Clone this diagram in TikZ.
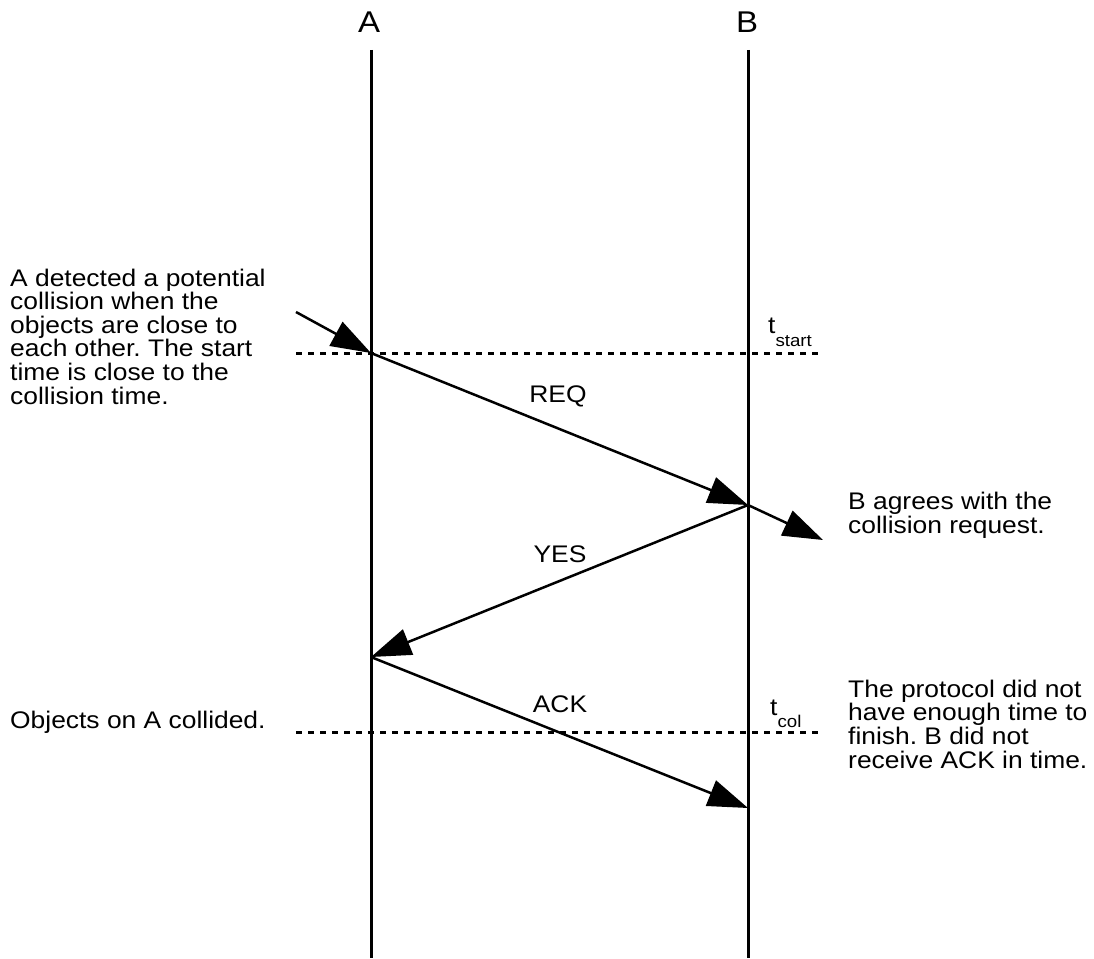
\documentclass[tikz,border=0pt]{standalone}
\usepackage{fontspec}
\setmainfont[FakeStretch=1.1]{Liberation Sans}
\usetikzlibrary{arrows.meta}
\frenchspacing
\newcommand{\notefont}{\fontsize{24}{23.6}\selectfont\frenchspacing\lineskiplimit=-30pt\relax\lineskip=0pt\relax}
\begin{document}
\begin{tikzpicture}[x=1pt,y=-1pt,
  body/.style={font=\notefont, inner sep=0pt, align=left, anchor=base west},
  head/.style={font=\fontsize{30}{30}\selectfont, inner sep=0pt, anchor=base},
  lifeline/.style={line width=3pt},
  msg/.style={line width=2.5pt, -{Triangle[length=40pt,width=27pt]}},
  timeline/.style={line width=3pt, dash pattern=on 6pt off 6pt},
  tlabel/.style={font=\fontsize{24}{24}\selectfont, inner sep=0pt, anchor=base west}]
\useasboundingbox (0,0) rectangle (1094,958);
% lifeline heads
\node[head] (A) at (369,33) {A};
\node[head] (B) at (747,33) {B};
\coordinate (Atop) at (371,50);
\coordinate (Btop) at (748,50);
\coordinate (Abot) at (371,958);
\coordinate (Bbot) at (748,958);
\draw[lifeline] (Atop) -- (Abot);
\draw[lifeline] (Btop) -- (Bbot);
% time lines
\coordinate (ts1) at (296,353);
\coordinate (ts2) at (823,353);
\coordinate (tc1) at (296,732);
\coordinate (tc2) at (823,732);
\draw[timeline] (ts1) -- (ts2);
\draw[timeline] (tc1) -- (tc2);
\node[tlabel] (tstart) at (768,333) {t\raisebox{-13pt}{\fontsize{17}{17}\selectfont start}};
\node[tlabel] (tcol) at (770,715) {t\raisebox{-12pt}{\fontsize{17}{17}\selectfont col}};
% message points
\coordinate (in) at (296,312);
\coordinate (a1) at (371,353);
\coordinate (b1) at (748,505);
\coordinate (out) at (823,540);
\coordinate (a2) at (371,657);
\coordinate (b2) at (748,808);
\draw[msg] (in) -- (a1);
\draw[msg] (a1) -- (b1);
\draw[msg] (b1) -- (out);
\draw[msg] (b1) -- (a2);
\draw[msg] (a2) -- (b2);
% message labels
\node[body, anchor=base] (req) at (558,402) {REQ};
\node[body, anchor=base] (yes) at (560,562) {YES};
\node[body, anchor=base] (ack) at (560,712) {ACK};
% notes (base anchor = baseline of last line)
\node[body] (n1) at (10,404) {A detected a potential\\collision when the\\objects are close to\\each other. The start\\time is close to the\\collision time.};
\node[body] (n2) at (10,728) {Objects on A collided.};
\node[body] (n3) at (848,533.3) {B agrees with the\\collision request.};
\node[body] (n4) at (848,768) {The protocol did not\\have enough time to\\finish. B did not\\receive ACK in time.};
\end{tikzpicture}
\end{document}
